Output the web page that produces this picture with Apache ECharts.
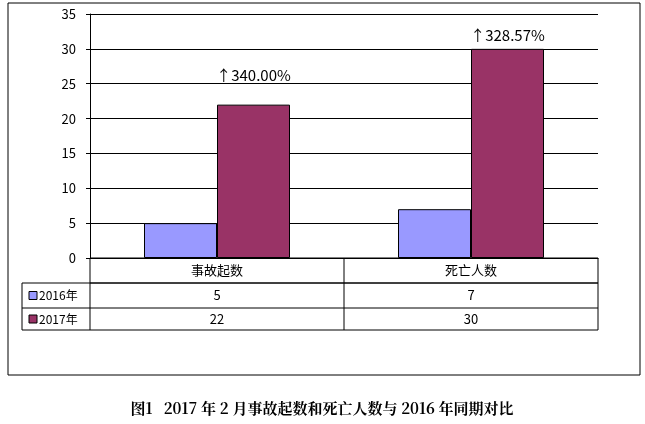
<!DOCTYPE html><html><head><meta charset="utf-8"><script src="https://cdn.jsdelivr.net/npm/echarts@6/dist/echarts.min.js"></script></head><body style="margin:0;background:#fff"><div id="c" style="width:645px;height:424px"></div><script>
const categories=['事故起数','死亡人数'];
const seriesNames=['2016年','2017年'];
const v2016=[5,7];
const v2017=[22,30];
const growth=['↑340.00%','↑328.57%'];
const colors=['#9999FF','#993366'];
const L=90,R=598,T=14,B=258,rowY=[258,283,308,330],tl=22,f='"Noto Sans CJK SC",sans-serif';
const mid=(L+R)/2;
const g=[];
g.push({type:'rect',shape:{x:8,y:3,width:632,height:372},style:{fill:'none',stroke:'#000',lineWidth:1}});
const ln=(x1,y1,x2,y2)=>g.push({type:'line',shape:{x1,y1,x2,y2},style:{stroke:'#000',lineWidth:1}});
ln(L,rowY[0],L,rowY[3]);ln(R,rowY[0],R,rowY[3]);ln(mid,rowY[0],mid,rowY[3]);
ln(L,rowY[0],R,rowY[0]);ln(L,rowY[1],R,rowY[1]);
ln(tl,rowY[1],R,rowY[1]);ln(tl,rowY[2],R,rowY[2]);ln(tl,rowY[3],R,rowY[3]);ln(tl,rowY[1],tl,rowY[3]);
const txt=(x,y,t,o)=>g.push({type:'text',x,y,style:Object.assign({text:t,font:'13px '+f,fill:'#000',align:'center',verticalAlign:'middle'},o||{})});
categories.forEach((c,i)=>txt(L+(i+0.5)*(R-L)/2,(rowY[0]+rowY[1])/2,c));
[v2016,v2017].forEach((arr,r)=>{
 const y=(rowY[r+1]+rowY[r+2])/2;
 g.push({type:'rect',shape:{x:29,y:y-4,width:8,height:8},style:{fill:colors[r],stroke:'#000',lineWidth:1}});
 txt(39,y,seriesNames[r],{align:'left',font:'12px '+f});
 arr.forEach((v,i)=>txt(L+(i+0.5)*(R-L)/2,y,String(v)));
});
txt(322,408,'图1   2017 年 2 月事故起数和死亡人数与 2016 年同期对比',{font:'bold 15px "Noto Serif CJK SC","DejaVu Serif",serif'});
const ch=echarts.init(document.getElementById('c'));
ch.setOption({animation:false,
grid:{left:L,right:645-R,top:T,bottom:424-B},
xAxis:{type:'category',data:categories,axisLine:{lineStyle:{color:'#000'}},axisTick:{show:false},axisLabel:{show:false}},
yAxis:{type:'value',min:0,max:35,interval:5,axisLine:{show:true,lineStyle:{color:'#000'}},axisTick:{show:true,inside:false,length:4,lineStyle:{color:'#000'}},splitLine:{lineStyle:{color:'#000'}},axisLabel:{color:'#000',fontSize:13,fontFamily:f,margin:14}},
series:[
{name:seriesNames[0],type:'bar',data:v2016,barWidth:73,barGap:'0%',itemStyle:{color:colors[0],borderColor:'#000',borderWidth:1}},
{name:seriesNames[1],type:'bar',data:v2017.map((v,i)=>({value:v,label:{distance:i==0?22:6}})),barWidth:73,itemStyle:{color:colors[1],borderColor:'#000',borderWidth:1},
 label:{show:true,position:'top',color:'#000',fontSize:15,fontFamily:f,formatter:p=>growth[p.dataIndex]}}
],
graphic:g});
</script></body></html>
